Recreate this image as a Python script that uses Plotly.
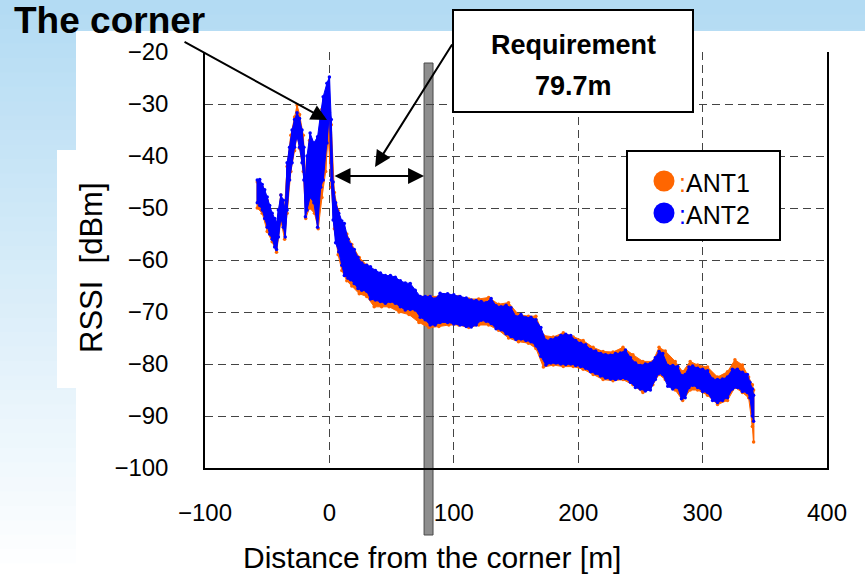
import plotly.graph_objects as go

# ------------------------------------------------------------------
# Data (RSSI band envelope: upper / lower edge)
# ------------------------------------------------------------------
ANT2_X = [-58, -56, -54, -52, -50, -48, -46, -44, -42.5, -41, -39, -37, -35.5, -34, -32, -30,
          -28, -26, -24, -22, -20.5, -19.3, -18, -15.5, -12.5, -9.5, -7, -5, -2, 0, 1.5, 3,
          5, 7.5, 10, 12, 15, 17, 20, 23, 26, 30, 33, 37, 41, 45, 49, 53, 57, 61, 65, 69,
          73, 77, 81, 85, 89, 95, 100, 105, 110, 114, 118, 122, 126, 130, 134, 138, 142, 146,
          150, 154, 158, 162, 166, 170, 174, 178, 182, 186, 190, 194, 198, 202, 206, 210, 214,
          218, 222, 226, 230, 234, 238, 242, 246, 250, 254, 258, 262, 265, 268, 272, 276, 280,
          283, 286, 289, 292, 296, 300, 304, 308, 312, 316, 320, 324, 328, 332, 336, 338, 340, 341]
ANT2_TOP = [-44.6, -44.5, -45.5, -46.5, -47.9, -49.5, -51, -52, -52.9, -50.4, -47.5, -48.5, -50.4,
            -41.3, -38.3, -35, -33, -31.7, -32.8, -35, -38.3, -44.6, -40, -35.6, -37.5, -36.3,
            -31.7, -28.6, -26, -24.8, -33, -45, -49, -51, -52.5, -53, -56, -57, -58, -59.5,
            -60.6, -61, -61.3, -62, -62.5, -63, -63, -63.3, -64, -64.4, -64.5, -65.8, -67, -67,
            -67, -67.5, -66.4, -66.5, -66.7, -67, -67.3, -67.7, -67.8, -68, -68.2, -67.4, -68.8,
            -69, -68.7, -69.2, -70.9, -70.5, -71.1, -71, -71.5, -73, -75.5, -75.3, -75, -74.5,
            -74.3, -74.5, -75.5, -76, -76.3, -77.2, -77.5, -78, -78.2, -78.3, -78, -77.9, -77.3,
            -78.8, -79.8, -80.3, -80, -79.9, -78.8, -77.6, -78, -80.3, -80.3, -80.5, -82.2, -82,
            -80.6, -80.4, -80.8, -81, -81.3, -82.9, -83, -82.9, -82.5, -81, -81, -81.6, -82,
            -83.5, -84.8, -86]
ANT2_BOTTOM = [-49, -49.5, -50.4, -52, -53.7, -55, -56, -57.5, -58, -55.6, -52, -53.7, -55.6,
               -50.4, -44.6, -41.3, -38.3, -36.3, -38.3, -41.3, -44.6, -51.7, -50.4, -47.9, -49,
               -53.7, -46, -44.6, -37.5, -31.7, -44.6, -52.3, -56.7, -58.4, -61, -63, -63.5,
               -63.8, -64.5, -65.5, -65.8, -66, -67.5, -67.7, -68, -68.3, -68, -68.3, -69, -69.6,
               -69.5, -69.6, -71, -71.5, -72.5, -72.5, -72, -72, -72.3, -72.5, -72.8, -72.9,
               -72.5, -71.6, -71.8, -72.2, -73.2, -73.4, -74.2, -74.7, -75.3, -75.2, -75.5,
               -75.7, -76.5, -78.5, -80.2, -79.8, -79.8, -80, -80.1, -80, -80.3, -80.5, -80.8,
               -81.5, -81.8, -82.3, -82.7, -82.9, -83, -82.8, -82.8, -83.5, -84.5, -84.8, -85.2,
               -85, -83, -81.8, -82, -84.3, -84.8, -84.5, -86.7, -86.5, -84.5, -84.1, -84.5,
               -85.3, -85.5, -87, -87.4, -87, -86.5, -84.8, -84.5, -85.3, -85.5, -86.5, -90, -91]

ANT1_X = [-58, -54, -50, -46, -42.5, -39, -36, -34, -31, -28, -26, -24, -21, -19, -16, -12, -9,
          -6, -3, -1, 1.5, 4, 7, 10, 14, 18, 24, 30, 36, 42, 48, 56, 64, 72, 80, 88, 96, 104,
          112, 120, 128, 136, 144, 152, 160, 166, 172, 180, 188, 196, 204, 212, 220, 228, 236,
          244, 252, 260, 265, 270, 278, 284, 290, 296, 304, 312, 320, 326, 332, 337, 340, 341]
ANT1_TOP = [-45, -46, -48.5, -51.5, -53.5, -47.5, -50, -42, -36, -32.5, -30.2, -32, -36, -44,
            -37, -38, -37, -31, -29, -27.3, -34, -47, -50.5, -53, -55, -57, -59.5, -61, -62,
            -63, -63.5, -64.5, -65, -67, -67, -67, -66.8, -67, -67.5, -67.5, -67.2, -68.5,
            -68.2, -70.5, -70.8, -70.8, -74.5, -74.8, -74, -74.8, -75.5, -76.8, -77.6, -77.7,
            -76.8, -78.2, -79.5, -79.5, -76.8, -77.5, -79.5, -81.5, -79.5, -80.2, -80.6, -82.5,
            -81.5, -79.2, -80.2, -82.5, -84, -85]
ANT1_BOTTOM = [-50, -51, -54.5, -56.5, -58.5, -52.5, -56, -51, -43, -39, -36, -38.5, -43, -52,
               -50, -51, -54, -48, -43, -36, -46, -54, -59, -62, -64, -65, -66.5, -67, -69,
               -69, -69, -70, -70.5, -72, -73, -72.8, -72.5, -72.5, -73, -72.5, -72.5, -73.5,
               -75, -75.7, -76, -77, -80.6, -80.2, -80.5, -80.5, -81, -82, -83, -83.2, -83,
               -84, -85.5, -84, -82, -83, -85, -87, -85, -85, -86, -87.8, -87, -84.5, -85.5,
               -86.5, -92, -95]

SERIES_NAMES = ["ANT1", "ANT2"]
SERIES_COLORS = ["#ff6600", "#0000ff"]
X_TICKS = [-100, 0, 100, 200, 300, 400]
Y_TICKS = [-100, -90, -80, -70, -60, -50, -40, -30, -20]
REQUIREMENT_M = 79.7

X_TITLE = "Distance from the corner [m]"
Y_TITLE = "RSSI\u00a0\u00a0[dBm]"
CORNER_TEXT = "The corner"
REQ_TEXT = "Requirement"

# ------------------------------------------------------------------
# Layout geometry (pixels)
# ------------------------------------------------------------------
W, H = 865, 578
ML, MR, MT, MB = 205, 38, 52, 110
PW, PH = W - ML - MR, H - MT - MB
FONT = "Liberation Sans, Arial, sans-serif"


def pxx(x):
    return (x - ML) / PW


def pxy(y):
    return (H - MB - y) / PH


def band(xs, tops, bots):
    # closed outline: upper edge left->right, lower edge right->left
    return list(xs) + list(xs)[::-1], list(tops) + list(bots)[::-1]


def zigzag(xs, tops, bots):
    zx, zy = [], []
    for x, t, b in zip(xs, tops, bots):
        zx += [x, x]
        zy += [t, b]
    return zx, zy


fig = go.Figure()

for xs, tops, bots, name, col in [
    (ANT1_X, ANT1_TOP, ANT1_BOTTOM, SERIES_NAMES[0], SERIES_COLORS[0]),
    (ANT2_X, ANT2_TOP, ANT2_BOTTOM, SERIES_NAMES[1], SERIES_COLORS[1]),
]:
    bx, by = band(xs, tops, bots)
    fig.add_trace(go.Scatter(
        x=bx, y=by, name=name, mode="lines+markers", fill="toself", fillcolor=col,
        line=dict(color=col, width=1),
        marker=dict(color=col, size=3.5),
        showlegend=False, hoverinfo="skip",
    ))
    zx, zy = zigzag(xs, tops, bots)
    fig.add_trace(go.Scatter(
        x=zx, y=zy, name=name, mode="lines",
        line=dict(color=col, width=1.5),
        showlegend=False, hoverinfo="skip",
    ))

shapes = []
# slide background: light-blue vertical gradient
N = 40
c0 = (179, 219, 243)
for i in range(N):
    t = i / (N - 1)
    col = tuple(int(round(c0[k] + (255 - c0[k]) * t)) for k in range(3))
    shapes.append(dict(type="rect", xref="paper", yref="paper", layer="below",
                       x0=pxx(0), x1=pxx(W), y0=pxy(i * H / N), y1=pxy((i + 1) * H / N + 1),
                       fillcolor="rgb(%d,%d,%d)" % col, line=dict(width=0)))
# white chart panel
shapes.append(dict(type="rect", xref="paper", yref="paper", layer="below",
                   x0=pxx(76), x1=pxx(W), y0=pxy(31), y1=pxy(H),
                   fillcolor="white", line=dict(width=0)))
shapes.append(dict(type="rect", xref="paper", yref="paper", layer="below",
                   x0=pxx(57), x1=pxx(77), y0=pxy(150), y1=pxy(388),
                   fillcolor="white", line=dict(width=0)))
# requirement bar
shapes.append(dict(type="rect", xref="x", yref="paper", layer="between",
                   x0=REQUIREMENT_M - 3.6, x1=REQUIREMENT_M + 3.6, y0=pxy(535), y1=pxy(63),
                   fillcolor="#8e8e8e", line=dict(color="#4a4a4a", width=1)))
# requirement box
shapes.append(dict(type="rect", xref="paper", yref="paper", layer="above",
                   x0=pxx(453), x1=pxx(693), y0=pxy(112), y1=pxy(10),
                   fillcolor="white", line=dict(color="black", width=2)))
# legend box
shapes.append(dict(type="rect", xref="paper", yref="paper", layer="above",
                   x0=pxx(627), x1=pxx(780), y0=pxy(240), y1=pxy(151),
                   fillcolor="white", line=dict(color="black", width=2)))
for k, yc in enumerate([181, 213]):
    shapes.append(dict(type="circle", xref="paper", yref="paper", layer="above",
                       xsizemode="pixel", ysizemode="pixel",
                       xanchor=pxx(664), yanchor=pxy(yc),
                       x0=-10.5, x1=10.5, y0=-10.5, y1=10.5,
                       fillcolor=SERIES_COLORS[k], line=dict(width=0)))

annotations = [
    dict(text="<b>%s</b>" % CORNER_TEXT, xref="paper", yref="paper",
         x=pxx(12), y=pxy(21), xanchor="left", yanchor="middle", showarrow=False,
         font=dict(size=37, color="black", family=FONT)),
    dict(text="<b>%s</b>" % REQ_TEXT, xref="paper", yref="paper",
         x=pxx(573), y=pxy(45), xanchor="center", yanchor="middle", showarrow=False,
         font=dict(size=27, color="black", family=FONT)),
    dict(text="<b>%sm</b>" % REQUIREMENT_M, xref="paper", yref="paper",
         x=pxx(573), y=pxy(86), xanchor="center", yanchor="middle", showarrow=False,
         font=dict(size=27, color="black", family=FONT)),
    dict(text=Y_TITLE, xref="paper", yref="paper", textangle=-90,
         x=pxx(91), y=pxy(268), xanchor="center", yanchor="middle", showarrow=False,
         font=dict(size=31, color="black", family=FONT)),
    dict(text=X_TITLE, xref="paper", yref="paper",
         x=pxx(432), y=pxy(557), xanchor="center", yanchor="middle", showarrow=False,
         font=dict(size=30, color="black", family=FONT)),
    # arrows
    dict(text="", xref="x", yref="y", x=-1.9, y=-33.1, ax=-144, ay=-79,
         showarrow=True, arrowhead=2, arrowsize=1.6, arrowwidth=2, arrowcolor="black",
         standoff=0),
    dict(text="", xref="x", yref="y", x=36.7, y=-42.1, ax=78, ay=-124,
         showarrow=True, arrowhead=2, arrowsize=1.6, arrowwidth=2, arrowcolor="black",
         standoff=0),
    dict(text="", xref="x", yref="y", x=REQUIREMENT_M - 3.6, y=-43.85,
         axref="x", ayref="y", ax=2.9, ay=-43.85,
         showarrow=True, arrowside="end+start", arrowhead=2, startarrowhead=2,
         arrowsize=1.6, startarrowsize=1.6, arrowwidth=2, arrowcolor="black",
         standoff=0, startstandoff=0),
]
for k, yc in enumerate([183, 215]):
    annotations.append(dict(
        text='<span style="color:%s">:</span>%s' % (SERIES_COLORS[k], SERIES_NAMES[k]),
        xref="paper", yref="paper", x=pxx(677), y=pxy(yc),
        xanchor="left", yanchor="middle", showarrow=False,
        font=dict(size=25, color="black", family=FONT)))

grid = dict(showgrid=True, gridcolor="#444444", gridwidth=1, griddash="8px,5px",
            zeroline=False, showline=True, linecolor="black", linewidth=1.5,
            ticks="", tickfont=dict(size=24, color="black", family=FONT),
            automargin=False, fixedrange=True)

fig.update_layout(
    template="none",
    width=W, height=H,
    margin=dict(l=ML, r=MR, t=MT, b=MB, pad=0),
    paper_bgcolor="white", plot_bgcolor="white",
    font=dict(family=FONT, color="black"),
    xaxis=dict(range=[-100, 400], tickvals=X_TICKS, ticktext=[str(v).replace("-", "\u2212") for v in X_TICKS],
               ticklabelstandoff=22, mirror=False, **grid),
    yaxis=dict(range=[-100, -20], tickvals=Y_TICKS, ticktext=[str(v).replace("-", "\u2212") for v in Y_TICKS],
               ticklabelstandoff=30, mirror=True, **grid),
    shapes=shapes,
    annotations=annotations,
    showlegend=False,
)

fig.write_html("out.html")
